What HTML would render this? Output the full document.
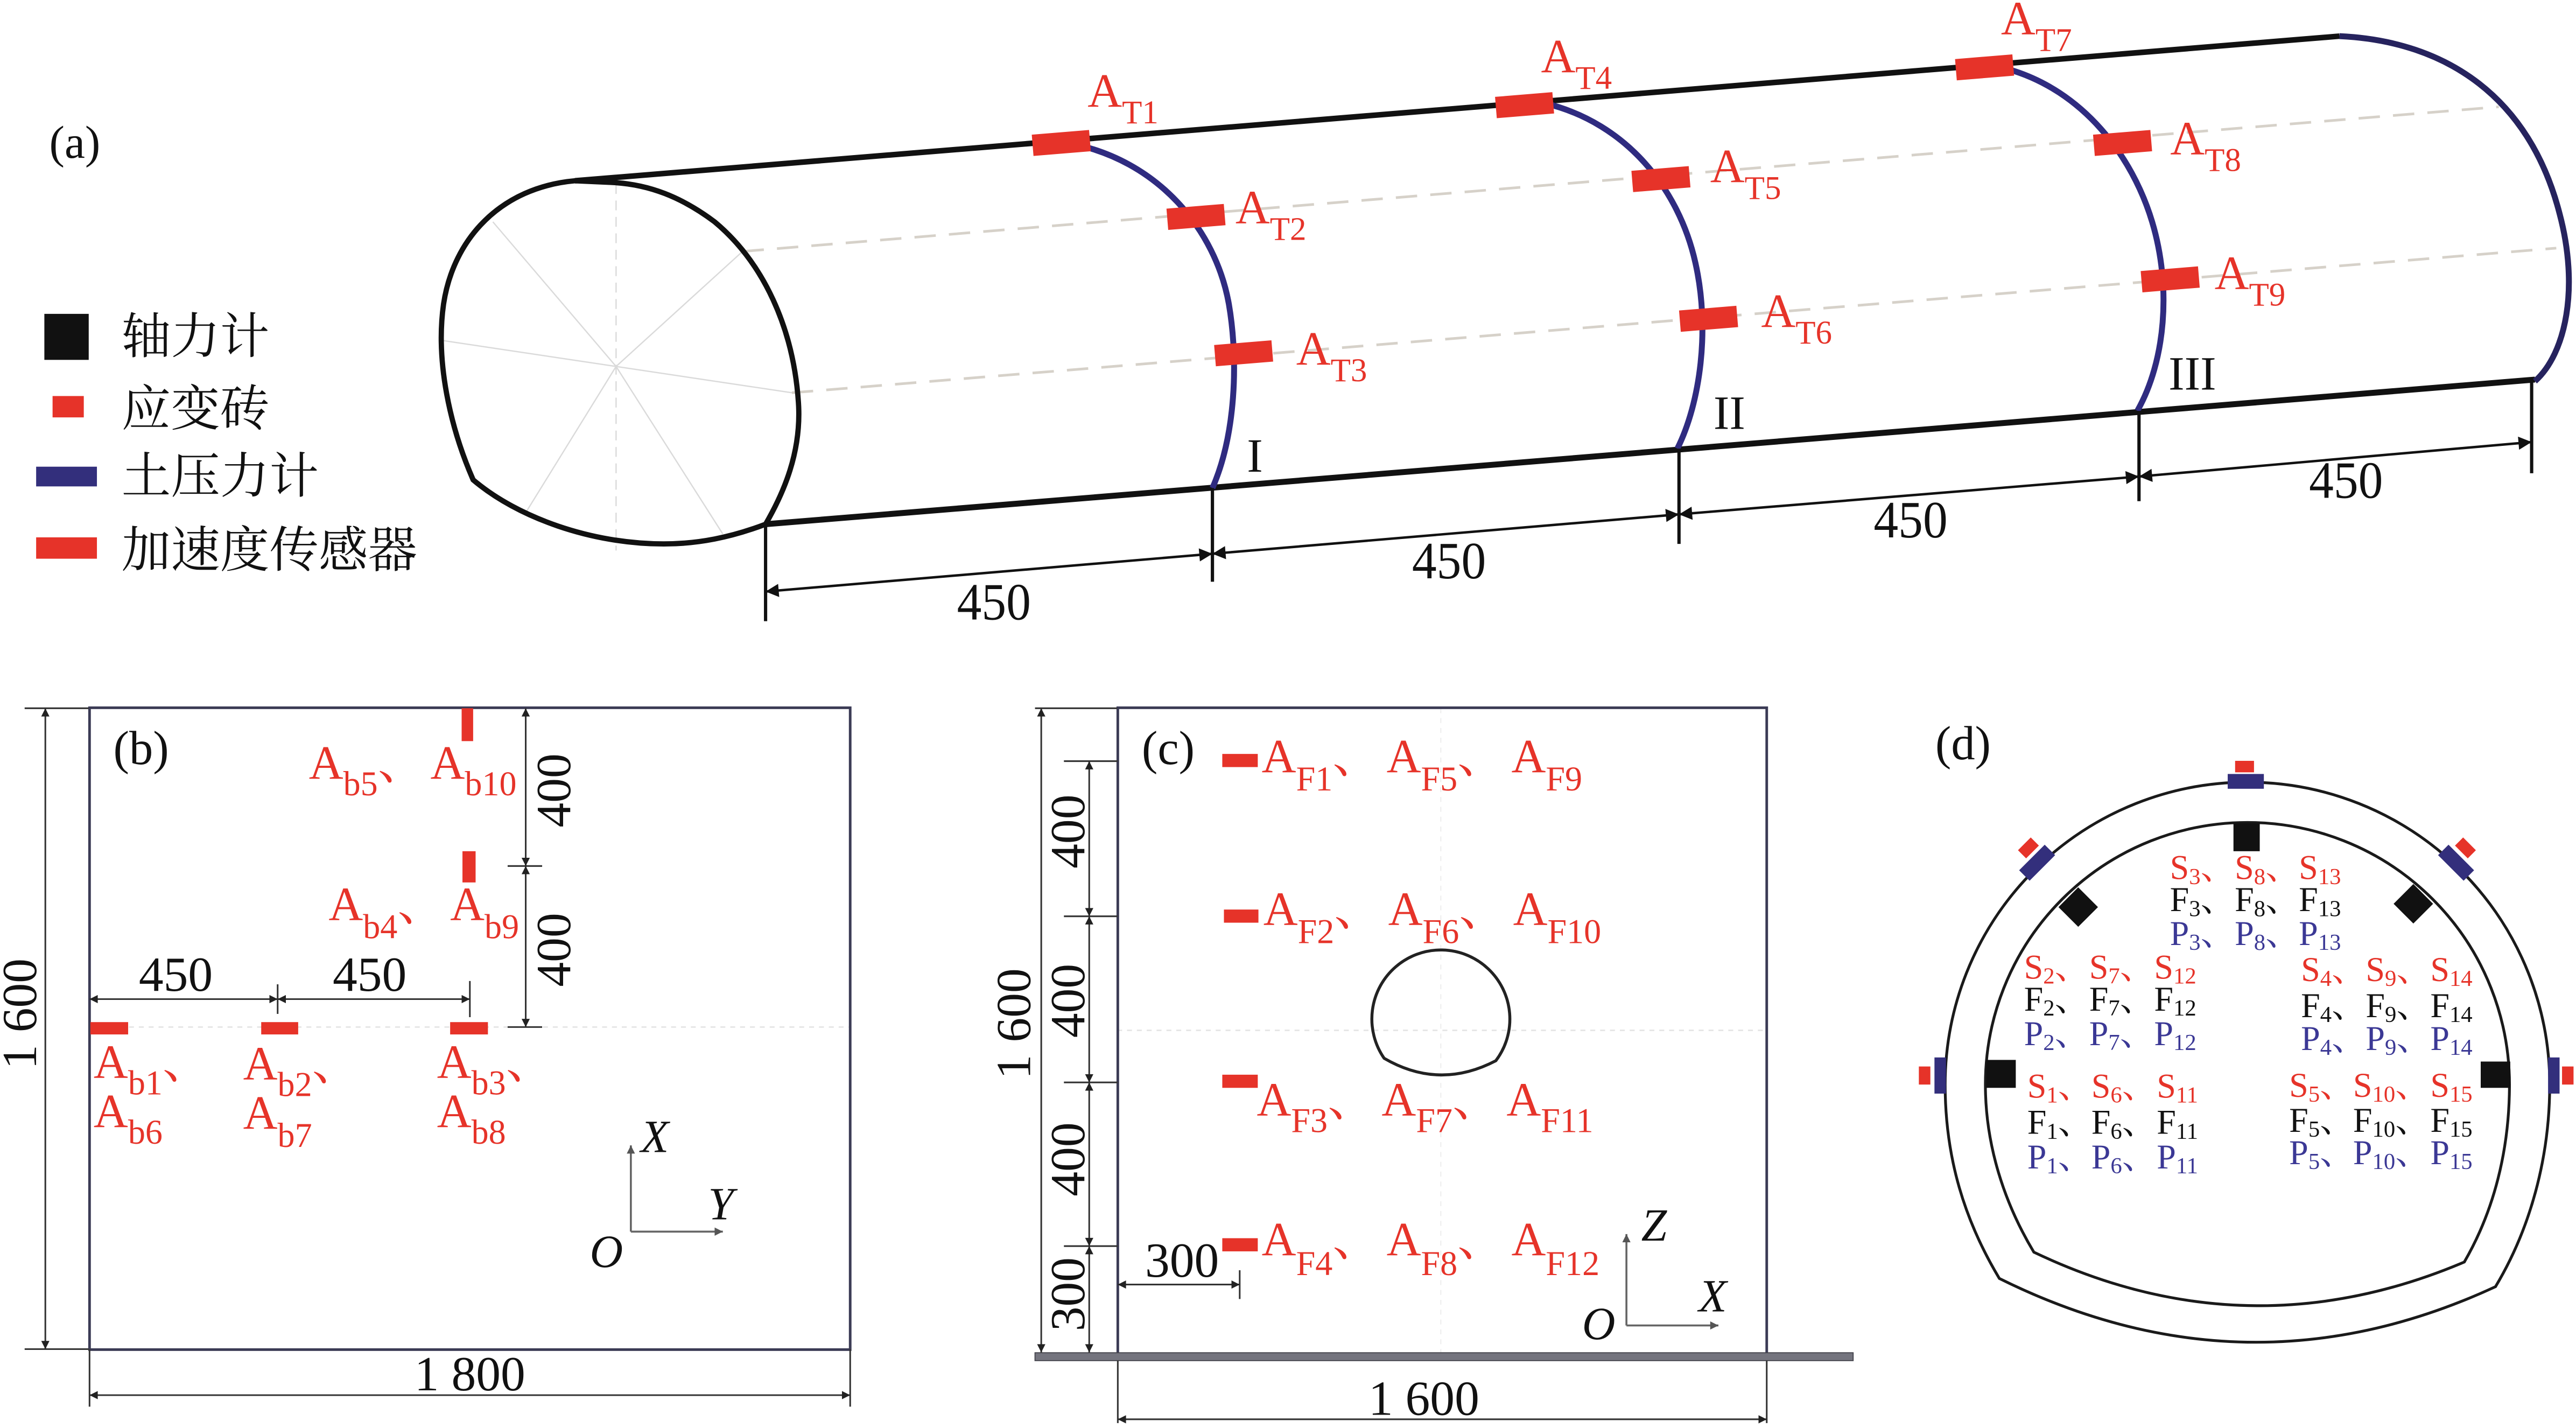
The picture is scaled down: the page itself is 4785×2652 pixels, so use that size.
<!DOCTYPE html>
<html><head><meta charset="utf-8"><style>
html,body{margin:0;padding:0;background:#fff;}
svg{display:block;}
</style></head><body>
<svg xmlns="http://www.w3.org/2000/svg" width="4785" height="2652" viewBox="0 0 1568 869" preserveAspectRatio="none" font-family="'Liberation Serif', 'Noto Serif CJK SC', serif" style="font-family:'Liberation Serif','Noto Serif CJK SC',serif">
<defs>
<marker id="a1" viewBox="0 0 10 10" refX="10" refY="5" markerWidth="11" markerHeight="8" orient="auto-start-reverse" markerUnits="userSpaceOnUse"><path d="M0,0L10,5L0,10z" fill="#111"/></marker>
<marker id="a2" viewBox="0 0 10 10" refX="10" refY="5" markerWidth="7" markerHeight="5" orient="auto-start-reverse" markerUnits="userSpaceOnUse"><path d="M0,0L10,5L0,10z" fill="#222"/></marker>
<marker id="a3" viewBox="0 0 10 10" refX="10" refY="5" markerWidth="7" markerHeight="5" orient="auto" markerUnits="userSpaceOnUse"><path d="M0,0L10,5L0,10z" fill="#555"/></marker>
</defs>
<rect width="1568" height="869" fill="#fff"/>

<!-- ===== Panel (a) ===== -->
<text x="30" y="96" font-size="28" fill="#111" font-family="'Liberation Serif', serif">(a)</text>

<!-- legend -->
<rect x="27" y="191" width="27" height="28" fill="#111"/>
<g font-family="'Noto Serif CJK SC', 'Noto Sans CJK SC', serif" style="font-family:'Noto Serif CJK SC','Noto Sans CJK SC',serif" font-size="30" fill="#111">
<text x="74" y="215">轴力计</text>
<text x="74" y="259">应变砖</text>
<text x="74" y="300">土压力计</text>
<text x="74" y="345">加速度传感器</text>
</g>
<rect x="32" y="241" width="19" height="13" fill="#e63329"/>
<rect x="22" y="284" width="37" height="12" fill="#332f7c"/>
<rect x="22" y="327" width="37" height="13" fill="#e63329"/>

<!-- faint lines inside front ellipse -->
<g stroke="#dadada" stroke-width="0.8" fill="none">
<line x1="375" y1="112" x2="375" y2="335" stroke-dasharray="6 4"/>
<line x1="375" y1="223" x2="300" y2="135"/>
<line x1="375" y1="223" x2="452" y2="153"/>
<line x1="375" y1="223" x2="268" y2="207"/>
<line x1="375" y1="223" x2="482" y2="239"/>
<line x1="375" y1="223" x2="320" y2="312"/>
<line x1="375" y1="223" x2="440" y2="325"/>
</g>

<!-- dashed longitudinal lines -->
<g stroke="#d6d1c9" stroke-width="1.6" stroke-dasharray="13 8" fill="none">
<line x1="452" y1="153" x2="1521" y2="65"/>
<line x1="482" y1="239" x2="1556" y2="151"/>
</g>

<!-- tunnel outline -->
<path d="M350 110 C305 114 276 145 270 185 C265 220 274 260 288 292 C315 315 360 331 404 331 C425 331 445 327 466 319 C477 300 488 275 486 245 C483 200 465 160 435 135 C415 120 395 112 372 111 Z" fill="none" stroke="#111" stroke-width="3.2"/>
<line x1="350" y1="110" x2="1424" y2="22" stroke="#111" stroke-width="3.4"/>
<line x1="466" y1="319" x2="1543" y2="231" stroke="#111" stroke-width="3.6"/>

<!-- navy section arcs -->
<g stroke="#2f2b80" stroke-width="3.6" fill="none">
<path d="M650 87 C705 97 740 140 748 185 C754 220 752 265 738 297"/>
<path d="M941 63 C990 75 1022 115 1032 160 C1041 200 1035 245 1021 273"/>
<path d="M1222 42 C1268 55 1298 95 1310 135 C1322 175 1318 220 1301 250"/>
<path d="M1424 22 C1490 25 1540 60 1558 130 C1570 175 1562 215 1543 232" stroke="#26235e"/>
</g>

<!-- red accelerometers -->
<g fill="#e63329">
<rect x="-17.5" y="-6.5" width="35" height="13" transform="translate(646,87) rotate(-4.7)"/>
<rect x="-17.5" y="-6.5" width="35" height="13" transform="translate(728,132) rotate(-4.7)"/>
<rect x="-17.5" y="-6.5" width="35" height="13" transform="translate(757,215) rotate(-4.7)"/>
<rect x="-17.5" y="-6.5" width="35" height="13" transform="translate(928,64) rotate(-4.7)"/>
<rect x="-17.5" y="-6.5" width="35" height="13" transform="translate(1011,109) rotate(-4.7)"/>
<rect x="-17.5" y="-6.5" width="35" height="13" transform="translate(1040,194) rotate(-4.7)"/>
<rect x="-17.5" y="-6.5" width="35" height="13" transform="translate(1208,41) rotate(-4.7)"/>
<rect x="-17.5" y="-6.5" width="35" height="13" transform="translate(1292,87) rotate(-4.7)"/>
<rect x="-17.5" y="-6.5" width="35" height="13" transform="translate(1321,170) rotate(-4.7)"/>
</g>

<!-- AT labels -->
<g fill="#e63329" font-size="29" font-family="'Liberation Serif', serif">
<text x="662" y="65">A<tspan font-size="20" dy="10">T1</tspan></text>
<text x="752" y="136">A<tspan font-size="20" dy="10">T2</tspan></text>
<text x="789" y="222">A<tspan font-size="20" dy="10">T3</tspan></text>
<text x="938" y="44">A<tspan font-size="20" dy="10">T4</tspan></text>
<text x="1041" y="111">A<tspan font-size="20" dy="10">T5</tspan></text>
<text x="1072" y="199">A<tspan font-size="20" dy="10">T6</tspan></text>
<text x="1218" y="21">A<tspan font-size="20" dy="10">T7</tspan></text>
<text x="1321" y="94">A<tspan font-size="20" dy="10">T8</tspan></text>
<text x="1348" y="176">A<tspan font-size="20" dy="10">T9</tspan></text>
</g>

<!-- roman numerals -->
<g fill="#111" font-size="29" font-family="'Liberation Serif', serif">
<text x="759" y="287">I</text>
<text x="1043" y="261">II</text>
<text x="1320" y="237">III</text>
</g>

<!-- dimension lines (a) -->
<g stroke="#111" stroke-width="2">
<line x1="466" y1="319" x2="466" y2="378"/>
<line x1="738" y1="297" x2="738" y2="354"/>
<line x1="1022" y1="273" x2="1022" y2="331"/>
<line x1="1302" y1="250" x2="1302" y2="305"/>
<line x1="1541" y1="231" x2="1541" y2="288"/>
</g>
<g stroke="#111" stroke-width="1.5">
<line x1="466" y1="360" x2="738" y2="337" marker-start="url(#a1)" marker-end="url(#a1)"/>
<line x1="738" y1="337" x2="1022" y2="313" marker-start="url(#a1)" marker-end="url(#a1)"/>
<line x1="1022" y1="313" x2="1302" y2="290" marker-start="url(#a1)" marker-end="url(#a1)"/>
<line x1="1302" y1="290" x2="1541" y2="269" marker-start="url(#a1)" marker-end="url(#a1)"/>
</g>
<g fill="#111" font-size="32" text-anchor="middle" font-family="'Liberation Serif', serif">
<text x="605" y="377" textLength="45" lengthAdjust="spacingAndGlyphs">450</text>
<text x="882" y="352" textLength="45" lengthAdjust="spacingAndGlyphs">450</text>
<text x="1163" y="327" textLength="45" lengthAdjust="spacingAndGlyphs">450</text>
<text x="1428" y="303" textLength="45" lengthAdjust="spacingAndGlyphs">450</text>
</g>

<!-- ===== Panel (b) ===== -->
<line x1="54.5" y1="625" x2="517.5" y2="625" stroke="#e6e6e6" stroke-width="1" stroke-dasharray="3 3"/>
<rect x="54.5" y="430.7" width="463" height="390.6" fill="none" stroke="#3b3b55" stroke-width="1.6"/>
<text x="69" y="465" font-size="29" fill="#111" font-family="'Liberation Serif', serif">(b)</text>
<g stroke="#333" stroke-width="1">
<line x1="15" y1="431" x2="54" y2="431"/>
<line x1="15" y1="821" x2="54" y2="821"/>
<line x1="27.6" y1="431" x2="27.6" y2="821" marker-start="url(#a2)" marker-end="url(#a2)"/>
<line x1="54.5" y1="821" x2="54.5" y2="856"/>
<line x1="517.5" y1="821" x2="517.5" y2="856"/>
<line x1="54.5" y1="849" x2="517.5" y2="849" marker-start="url(#a2)" marker-end="url(#a2)"/>
<line x1="309" y1="527" x2="330" y2="527"/>
<line x1="309" y1="625" x2="330" y2="625"/>
<line x1="320" y1="431" x2="320" y2="527" marker-start="url(#a2)" marker-end="url(#a2)"/>
<line x1="320" y1="527" x2="320" y2="625" marker-start="url(#a2)" marker-end="url(#a2)"/>
<line x1="169" y1="599" x2="169" y2="617"/>
<line x1="286" y1="597" x2="286" y2="619"/>
<line x1="54.5" y1="608" x2="169" y2="608" marker-start="url(#a2)" marker-end="url(#a2)"/>
<line x1="169" y1="608" x2="286" y2="608" marker-start="url(#a2)" marker-end="url(#a2)"/>
</g>
<g fill="#111" font-size="30" text-anchor="middle" font-family="'Liberation Serif', serif">
<text transform="translate(22,617) rotate(-90)">1 600</text>
<text x="286" y="846">1 800</text>
<text transform="translate(347,481) rotate(-90)">400</text>
<text transform="translate(347,578) rotate(-90)">400</text>
<text x="107" y="603">450</text>
<text x="225" y="603">450</text>
</g>
<g fill="#e63329">
<rect x="281" y="431" width="7" height="20"/>
<rect x="281.5" y="518" width="8" height="19"/>
<rect x="55" y="622" width="23" height="7.5"/>
<rect x="159" y="622" width="22.5" height="7.5"/>
<rect x="274" y="622" width="23" height="7.5"/>
</g>
<g fill="#e63329" font-size="29">
<text x="188" y="474">A<tspan font-size="21" dy="10">b5</tspan><tspan dy="-10">、</tspan></text>
<text x="262" y="474">A<tspan font-size="21" dy="10">b10</tspan></text>
<text x="200" y="560">A<tspan font-size="21" dy="11">b4</tspan><tspan dy="-11">、</tspan></text>
<text x="274" y="560">A<tspan font-size="21" dy="11">b9</tspan></text>
<text x="57" y="656">A<tspan font-size="21" dy="10">b1</tspan><tspan dy="-10">、</tspan></text>
<text x="57" y="686">A<tspan font-size="21" dy="10">b6</tspan></text>
<text x="148" y="657">A<tspan font-size="21" dy="10">b2</tspan><tspan dy="-10">、</tspan></text>
<text x="148" y="687">A<tspan font-size="21" dy="11">b7</tspan></text>
<text x="266" y="656">A<tspan font-size="21" dy="10">b3</tspan><tspan dy="-10">、</tspan></text>
<text x="266" y="686">A<tspan font-size="21" dy="10">b8</tspan></text>
</g>
<g stroke="#666" stroke-width="1.2">
<line x1="384" y1="749.5" x2="384" y2="697" marker-end="url(#a3)"/>
<line x1="384" y1="749.5" x2="440" y2="749.5" marker-end="url(#a3)"/>
</g>
<g fill="#111" font-size="28" font-style="italic" font-family="'Liberation Serif', serif">
<text x="390" y="701">X</text>
<text x="431" y="742">Y</text>
<text x="359" y="771">O</text>
</g>

<!-- ===== Panel (c) ===== -->
<line x1="680" y1="627" x2="1075" y2="627" stroke="#e6e6e6" stroke-width="1" stroke-dasharray="3 3"/>
<line x1="877" y1="431" x2="877" y2="824" stroke="#f0f0f0" stroke-width="0.8" stroke-dasharray="3 3"/>
<rect x="680.4" y="430.7" width="395" height="394" fill="none" stroke="#3b3b55" stroke-width="1.6"/>
<rect x="630" y="823.2" width="498" height="4.8" fill="#74747e" stroke="#44444c" stroke-width="0.6"/>
<text x="695" y="465" font-size="29" fill="#111" font-family="'Liberation Serif', serif">(c)</text>
<g stroke="#333" stroke-width="1">
<line x1="630" y1="431" x2="680" y2="431"/>
<line x1="633.8" y1="431" x2="633.8" y2="823" marker-start="url(#a2)" marker-end="url(#a2)"/>
<line x1="647.6" y1="463.2" x2="680.4" y2="463.2"/>
<line x1="647.6" y1="557.6" x2="680.4" y2="557.6"/>
<line x1="647.6" y1="658.7" x2="680.4" y2="658.7"/>
<line x1="647.6" y1="758.3" x2="680.4" y2="758.3"/>
<line x1="663" y1="463.2" x2="663" y2="557.6" marker-start="url(#a2)" marker-end="url(#a2)"/>
<line x1="663" y1="557.6" x2="663" y2="658.7" marker-start="url(#a2)" marker-end="url(#a2)"/>
<line x1="663" y1="658.7" x2="663" y2="758.3" marker-start="url(#a2)" marker-end="url(#a2)"/>
<line x1="663" y1="758.3" x2="663" y2="823" marker-start="url(#a2)" marker-end="url(#a2)"/>
<line x1="754.6" y1="773" x2="754.6" y2="790.5"/>
<line x1="680.4" y1="781.7" x2="754.6" y2="781.7" marker-start="url(#a2)" marker-end="url(#a2)"/>
<line x1="680.4" y1="828" x2="680.4" y2="866"/>
<line x1="1075.4" y1="828" x2="1075.4" y2="866"/>
<line x1="680.4" y1="863.7" x2="1075.4" y2="863.7" marker-start="url(#a2)" marker-end="url(#a2)"/>
</g>
<g fill="#111" font-size="30" text-anchor="middle" font-family="'Liberation Serif', serif">
<text transform="translate(627,623) rotate(-90)">1 600</text>
<text transform="translate(660,506) rotate(-90)">400</text>
<text transform="translate(660,609) rotate(-90)">400</text>
<text transform="translate(660,705.5) rotate(-90)">400</text>
<text transform="translate(660,787.6) rotate(-90)">300</text>
<text x="719.5" y="777">300</text>
<text x="866.7" y="861">1 600</text>
</g>
<path d="M842.5 644 A42 42 0 1 1 910.5 645.5 Q876 663.5 842.5 644 Z" fill="none" stroke="#222" stroke-width="1.8"/>
<g fill="#e63329">
<rect x="744" y="458.8" width="21.6" height="8"/>
<rect x="745" y="553.5" width="21" height="8"/>
<rect x="744" y="654" width="21.6" height="8"/>
<rect x="744" y="753.5" width="21.6" height="8"/>
</g>
<g fill="#e63329" font-size="29">
<text x="768" y="470">A<tspan font-size="21" dy="11">F1</tspan><tspan dy="-11">、</tspan></text>
<text x="844" y="470">A<tspan font-size="21" dy="11">F5</tspan><tspan dy="-11">、</tspan></text>
<text x="920" y="470">A<tspan font-size="21" dy="11">F9</tspan></text>
<text x="769" y="563">A<tspan font-size="21" dy="11">F2</tspan><tspan dy="-11">、</tspan></text>
<text x="845" y="563">A<tspan font-size="21" dy="11">F6</tspan><tspan dy="-11">、</tspan></text>
<text x="921" y="563">A<tspan font-size="21" dy="11">F10</tspan></text>
<text x="765" y="679">A<tspan font-size="21" dy="10">F3</tspan><tspan dy="-10">、</tspan></text>
<text x="841" y="679">A<tspan font-size="21" dy="10">F7</tspan><tspan dy="-10">、</tspan></text>
<text x="917" y="679">A<tspan font-size="21" dy="10">F11</tspan></text>
<text x="768" y="764">A<tspan font-size="21" dy="12">F4</tspan><tspan dy="-12">、</tspan></text>
<text x="844" y="764">A<tspan font-size="21" dy="12">F8</tspan><tspan dy="-12">、</tspan></text>
<text x="920" y="764">A<tspan font-size="21" dy="12">F12</tspan></text>
</g>
<g stroke="#666" stroke-width="1.2">
<line x1="990" y1="806.6" x2="990" y2="751" marker-end="url(#a3)"/>
<line x1="990" y1="806.6" x2="1046" y2="806.6" marker-end="url(#a3)"/>
</g>
<g fill="#111" font-size="28" font-style="italic" font-family="'Liberation Serif', serif">
<text x="999" y="755">Z</text>
<text x="1034" y="798">X</text>
<text x="963" y="815">O</text>
</g>

<!-- ===== Panel (d) ===== -->
<text x="1178" y="462" font-size="29" fill="#111" font-family="'Liberation Serif', serif">(d)</text>
<path d="M1184 660 A184 184 0 0 1 1552 660 C1552 705 1540 748 1519 783 Q1368 853 1217 778 C1196 743 1184 705 1184 660 Z" fill="none" stroke="#1a1a1a" stroke-width="1.7"/>
<path d="M1208.5 660 A159.5 159.5 0 0 1 1527.5 660 C1527.5 700 1518 737 1500 768 Q1368 824 1238 762 C1220 732 1208.5 697 1208.5 660 Z" fill="none" stroke="#1a1a1a" stroke-width="1.7"/>
<!-- black axial force meters -->
<g fill="#111">
<rect x="1359.5" y="501" width="16" height="17"/>
<rect x="1209" y="645" width="18" height="17"/>
<rect x="1510" y="646" width="18" height="16"/>
<rect x="-8.5" y="-8.5" width="17" height="17" transform="translate(1265,552) rotate(45)"/>
<rect x="-8.5" y="-8.5" width="17" height="17" transform="translate(1469,550) rotate(-45)"/>
</g>
<!-- navy earth pressure cells -->
<g fill="#332f7c">
<rect x="1356" y="471" width="22" height="9"/>
<rect x="1177.5" y="643.5" width="7" height="22"/>
<rect x="1551" y="643.5" width="7" height="22"/>
<rect x="-11" y="-4.5" width="22" height="9" transform="translate(1240,525) rotate(-45)"/>
<rect x="-11" y="-4.5" width="22" height="9" transform="translate(1495,525) rotate(45)"/>
</g>
<g fill="#e63329">
<rect x="1360.5" y="463" width="11.5" height="7"/>
<rect x="1168" y="649" width="7" height="11"/>
<rect x="1559.5" y="649" width="7" height="11"/>
<rect x="-5.5" y="-3.5" width="11" height="7" transform="translate(1234.7,516) rotate(-45)"/>
<rect x="-5.5" y="-3.5" width="11" height="7" transform="translate(1500.7,516) rotate(45)"/>
</g>

<!-- d labels -->
<g font-size="21">
<g fill="#e63329">
<text x="1320.8" y="535">S<tspan font-size="14" dy="3">3</tspan><tspan dy="-3">、</tspan></text>
<text x="1360.3" y="535">S<tspan font-size="14" dy="3">8</tspan><tspan dy="-3">、</tspan></text>
<text x="1399.3" y="535">S<tspan font-size="14" dy="3">13</tspan></text>
<text x="1232" y="595.5">S<tspan font-size="14" dy="3">2</tspan><tspan dy="-3">、</tspan></text>
<text x="1271.7" y="595.5">S<tspan font-size="14" dy="3">7</tspan><tspan dy="-3">、</tspan></text>
<text x="1311.2" y="595.5">S<tspan font-size="14" dy="3">12</tspan></text>
<text x="1400.6" y="597">S<tspan font-size="14" dy="3">4</tspan><tspan dy="-3">、</tspan></text>
<text x="1440" y="597">S<tspan font-size="14" dy="3">9</tspan><tspan dy="-3">、</tspan></text>
<text x="1479.3" y="597">S<tspan font-size="14" dy="3">14</tspan></text>
<text x="1234" y="668">S<tspan font-size="14" dy="3">1</tspan><tspan dy="-3">、</tspan></text>
<text x="1273" y="668">S<tspan font-size="14" dy="3">6</tspan><tspan dy="-3">、</tspan></text>
<text x="1312.8" y="668">S<tspan font-size="14" dy="3">11</tspan></text>
<text x="1393.4" y="667.5">S<tspan font-size="14" dy="3">5</tspan><tspan dy="-3">、</tspan></text>
<text x="1432.3" y="667.5">S<tspan font-size="14" dy="3">10</tspan><tspan dy="-3">、</tspan></text>
<text x="1479.3" y="667.5">S<tspan font-size="14" dy="3">15</tspan></text>
</g>
<g fill="#111">
<text x="1320.8" y="554.5">F<tspan font-size="14" dy="3">3</tspan><tspan dy="-3">、</tspan></text>
<text x="1360.3" y="554.5">F<tspan font-size="14" dy="3">8</tspan><tspan dy="-3">、</tspan></text>
<text x="1399.3" y="554.5">F<tspan font-size="14" dy="3">13</tspan></text>
<text x="1232" y="615">F<tspan font-size="14" dy="3">2</tspan><tspan dy="-3">、</tspan></text>
<text x="1271.7" y="615">F<tspan font-size="14" dy="3">7</tspan><tspan dy="-3">、</tspan></text>
<text x="1311.2" y="615">F<tspan font-size="14" dy="3">12</tspan></text>
<text x="1400.6" y="619">F<tspan font-size="14" dy="3">4</tspan><tspan dy="-3">、</tspan></text>
<text x="1440" y="619">F<tspan font-size="14" dy="3">9</tspan><tspan dy="-3">、</tspan></text>
<text x="1479.3" y="619">F<tspan font-size="14" dy="3">14</tspan></text>
<text x="1234" y="690">F<tspan font-size="14" dy="3">1</tspan><tspan dy="-3">、</tspan></text>
<text x="1273" y="690">F<tspan font-size="14" dy="3">6</tspan><tspan dy="-3">、</tspan></text>
<text x="1312.8" y="690">F<tspan font-size="14" dy="3">11</tspan></text>
<text x="1393.4" y="688.7">F<tspan font-size="14" dy="3">5</tspan><tspan dy="-3">、</tspan></text>
<text x="1432.3" y="688.7">F<tspan font-size="14" dy="3">10</tspan><tspan dy="-3">、</tspan></text>
<text x="1479.3" y="688.7">F<tspan font-size="14" dy="3">15</tspan></text>
</g>
<g fill="#3b3895">
<text x="1320.8" y="575">P<tspan font-size="14" dy="3">3</tspan><tspan dy="-3">、</tspan></text>
<text x="1360.3" y="575">P<tspan font-size="14" dy="3">8</tspan><tspan dy="-3">、</tspan></text>
<text x="1399.3" y="575">P<tspan font-size="14" dy="3">13</tspan></text>
<text x="1232" y="636">P<tspan font-size="14" dy="3">2</tspan><tspan dy="-3">、</tspan></text>
<text x="1271.7" y="636">P<tspan font-size="14" dy="3">7</tspan><tspan dy="-3">、</tspan></text>
<text x="1311.2" y="636">P<tspan font-size="14" dy="3">12</tspan></text>
<text x="1400.6" y="639">P<tspan font-size="14" dy="3">4</tspan><tspan dy="-3">、</tspan></text>
<text x="1440" y="639">P<tspan font-size="14" dy="3">9</tspan><tspan dy="-3">、</tspan></text>
<text x="1479.3" y="639">P<tspan font-size="14" dy="3">14</tspan></text>
<text x="1234" y="711">P<tspan font-size="14" dy="3">1</tspan><tspan dy="-3">、</tspan></text>
<text x="1273" y="711">P<tspan font-size="14" dy="3">6</tspan><tspan dy="-3">、</tspan></text>
<text x="1312.8" y="711">P<tspan font-size="14" dy="3">11</tspan></text>
<text x="1393.4" y="708.4">P<tspan font-size="14" dy="3">5</tspan><tspan dy="-3">、</tspan></text>
<text x="1432.3" y="708.4">P<tspan font-size="14" dy="3">10</tspan><tspan dy="-3">、</tspan></text>
<text x="1479.3" y="708.4">P<tspan font-size="14" dy="3">15</tspan></text>
</g>
</g>
</svg>
</body></html>
